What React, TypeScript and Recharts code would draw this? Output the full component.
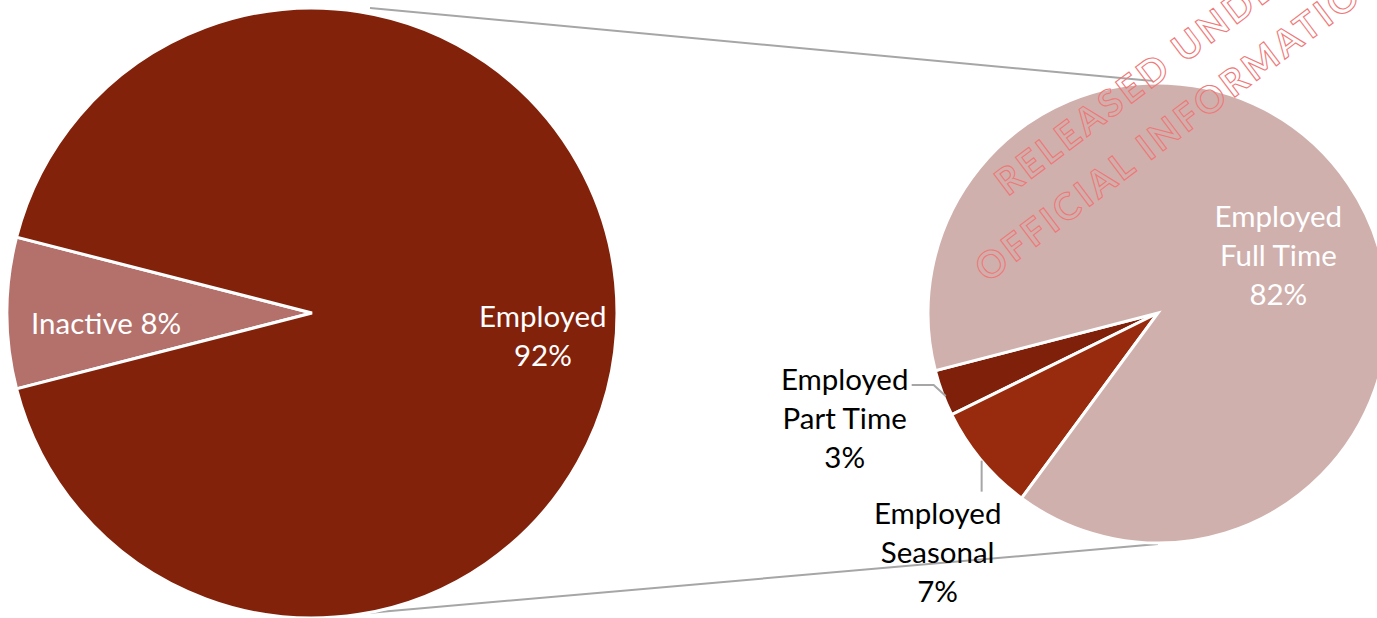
import React from "react";
import { PieChart, Pie, Cell, Customized } from "recharts";

// primary pie: everyone
const mainNames = ["Inactive", "Employed"];
const mainValues = [8, 92];
const mainColors = ["#B4706A", "#82220B"];

// secondary pie: breakdown of Employed (shares of the total)
const subNames = ["Employed Part Time", "Employed Seasonal", "Employed Full Time"];
const subValues = [3, 7, 82];
const subColors = ["#7F200A", "#982A0E", "#CFB0AD"];

const watermarkLines = ["RELEASED UNDER THE", "OFFICIAL INFORMATION ACT"];

const W = 1377;
const H = 618;
const FONT = "Lato, 'Open Sans', sans-serif";

const MAIN = { cx: 312, cy: 313, r: 305, start: 165.6 };
const SUB = { cx: 1158, cy: 313, r: 230, start: 194.5 };

const RAD = Math.PI / 180;
function polar(cx: number, cy: number, r: number, angle: number) {
  return { x: cx + r * Math.cos(-angle * RAD), y: cy + r * Math.sin(-angle * RAD) };
}

const mainData = mainNames.map((name, i) => ({ name, value: mainValues[i] }));
const subData = subNames.map((name, i) => ({ name, value: subValues[i] }));

function splitLabel(name: string, value: number, oneLine: boolean) {
  if (oneLine) return [`${name} ${value}%`];
  const parts = name.split(" ");
  const first = parts[0];
  const rest = parts.slice(1).join(" ");
  return rest ? [first, rest, `${value}%`] : [first, `${value}%`];
}

function Lines({ x, y, lines, fill }: { x: number; y: number; lines: string[]; fill: string }) {
  return (
    <text x={x} y={y} textAnchor="middle" fill={fill} fontFamily={FONT} fontSize={29.5}>
      {lines.map((l, i) => (
        <tspan key={i} x={x} dy={i === 0 ? 0 : 39} dominantBaseline="central">
          {l}
        </tspan>
      ))}
    </text>
  );
}

function mainLabel(props: any) {
  const { cx, cy, midAngle, outerRadius, index } = props;
  const name = mainNames[index];
  const value = mainValues[index];
  if (index === 0) {
    const p = polar(cx, cy, outerRadius * 0.675, midAngle);
    return <Lines x={p.x} y={p.y + 9} lines={splitLabel(name, value, true)} fill="#FFFFFF" />;
  }
  const p = polar(cx, cy, outerRadius * 0.757, midAngle);
  return <Lines x={p.x} y={p.y + 2} lines={splitLabel(name, value, false)} fill="#FFFFFF" />;
}

function subLabel(props: any) {
  const { cx, cy, midAngle, outerRadius, index } = props;
  const name = subNames[index];
  const value = subValues[index];
  const lines = splitLabel(name, value, false);
  if (index === 2) {
    const p = polar(cx, cy, outerRadius * 0.6, midAngle);
    return <Lines x={p.x + 6} y={p.y - 20} lines={lines} fill="#FFFFFF" />;
  }
  if (index === 0) {
    const s = polar(cx, cy, outerRadius - 2, midAngle + 1);
    const bend = { x: s.x - 12, y: s.y - 11 };
    const end = { x: bend.x - 22, y: bend.y };
    return (
      <g>
        <polyline
          points={`${s.x},${s.y} ${bend.x},${bend.y} ${end.x},${end.y}`}
          fill="none"
          stroke="#A6A6A6"
          strokeWidth={2}
        />
        <Lines x={end.x - 67} y={end.y - 7} lines={lines} fill="#000000" />
      </g>
    );
  }
  const s = polar(cx, cy, outerRadius, midAngle);
  const end = { x: s.x, y: s.y + 31 };
  return (
    <g>
      <line x1={s.x} y1={s.y} x2={end.x} y2={end.y} stroke="#A6A6A6" strokeWidth={2} />
      <Lines x={s.x - 44} y={s.y + 52} lines={lines} fill="#000000" />
    </g>
  );
}

function Connectors() {
  const topA = { x: MAIN.cx + 58, y: MAIN.cy - MAIN.r };
  const topB = { x: SUB.cx - 5, y: SUB.cy - SUB.r - 2 };
  const botA = { x: MAIN.cx + 33, y: MAIN.cy + MAIN.r - 3 };
  const botB = { x: SUB.cx, y: SUB.cy + SUB.r + 1 };
  return (
    <g>
      <line x1={topA.x} y1={topA.y} x2={topB.x} y2={topB.y} stroke="#A6A6A6" strokeWidth={2} />
      <line x1={botA.x} y1={botA.y} x2={botB.x} y2={botB.y} stroke="#A6A6A6" strokeWidth={2} />
    </g>
  );
}

// drawn on its own layer above the chart, like the stamp on the scanned page
function Watermark() {
  return (
    <svg
      width={W}
      height={H}
      style={{ position: "absolute", left: 0, top: 0, pointerEvents: "none" }}
    >
      <g transform="translate(1192, 58) rotate(-37)">
        {watermarkLines.map((l, i) => (
          <text
            key={i}
            x={0}
            y={i * 57}
            textAnchor="middle"
            fontFamily={FONT}
            fontSize={37}
            fontWeight={700}
            letterSpacing={3.5}
            fill="none"
            stroke="#F07878"
            strokeWidth={1.1}
          >
            {l}
          </text>
        ))}
      </g>
    </svg>
  );
}

export default function App() {
  return (
    <div style={{ position: "absolute", left: 0, top: 0, width: W, height: H, background: "#FFFFFF" }}>
      <PieChart width={W} height={H} margin={{ top: 0, right: 0, bottom: 0, left: 0 }}>
        <Customized component={Connectors} />
        <Pie
          data={mainData}
          dataKey="value"
          nameKey="name"
          cx={MAIN.cx}
          cy={MAIN.cy}
          outerRadius={MAIN.r}
          startAngle={MAIN.start}
          endAngle={MAIN.start + 360}
          stroke="#FFFFFF"
          strokeWidth={3}
          label={mainLabel}
          labelLine={false}
          isAnimationActive={false}
        >
          {mainData.map((d, i) => (
            <Cell key={d.name} fill={mainColors[i]} />
          ))}
        </Pie>
        <Pie
          data={subData}
          dataKey="value"
          nameKey="name"
          cx={SUB.cx}
          cy={SUB.cy}
          outerRadius={SUB.r}
          startAngle={SUB.start}
          endAngle={SUB.start + 360}
          stroke="#FFFFFF"
          strokeWidth={3}
          label={subLabel}
          labelLine={false}
          isAnimationActive={false}
        >
          {subData.map((d, i) => (
            <Cell key={d.name} fill={subColors[i]} />
          ))}
        </Pie>
      </PieChart>
      <Watermark />
    </div>
  );
}
